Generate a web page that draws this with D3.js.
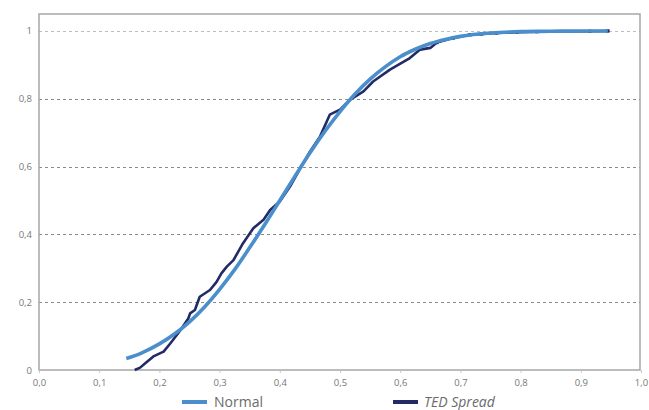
<!DOCTYPE html>
<html>
<head>
<meta charset="utf-8">
<script src="https://cdn.jsdelivr.net/npm/d3@7"></script>
<style>
    body { margin: 0; background: #fff; font-family: "Open Sans", sans-serif; }
</style>
</head>
<body>
<div id="chart-area"></div>
<script>

// tick values
let xTicks = [0, 0.1, 0.2, 0.3, 0.4, 0.5, 0.6, 0.7, 0.8, 0.9, 1.0];
let yTicks = [0, 0.2, 0.4, 0.6, 0.8, 1];

// Normal distribution curve
let normalX = [0.145, 0.17, 0.2, 0.225, 0.25, 0.275, 0.3, 0.325, 0.35, 0.375, 0.4, 0.425, 0.45, 0.475,
    0.5, 0.525, 0.55, 0.575, 0.6, 0.625, 0.65, 0.675, 0.7, 0.75, 0.8, 0.85, 0.9, 0.945];
let normalY = [0.034, 0.050, 0.077, 0.106, 0.142, 0.186, 0.238, 0.296, 0.361, 0.429, 0.5, 0.571, 0.640, 0.704,
    0.762, 0.814, 0.858, 0.894, 0.924, 0.946, 0.963, 0.975, 0.984, 0.994, 0.998, 0.999, 1.0, 1.0];

let tedX = [0.159, 0.168, 0.176, 0.19, 0.207, 0.218, 0.234, 0.248, 0.251, 0.259, 0.267, 0.284, 0.295, 0.303,
    0.312, 0.323, 0.331, 0.339, 0.356, 0.373, 0.384, 0.400, 0.417, 0.434, 0.450, 0.467, 0.483, 0.5, 0.517,
    0.539, 0.555, 0.583, 0.616, 0.633, 0.65, 0.661, 0.688, 0.716, 0.735, 0.760, 0.794, 0.827, 0.915, 0.945];
let tedY = [0, 0.007, 0.019, 0.04, 0.054, 0.078, 0.115, 0.152, 0.167, 0.177, 0.216, 0.236, 0.260, 0.285,
    0.305, 0.324, 0.349, 0.374, 0.418, 0.443, 0.472, 0.497, 0.541, 0.595, 0.644, 0.689, 0.753, 0.768, 0.797,
    0.822, 0.851, 0.886, 0.92, 0.945, 0.95, 0.966, 0.979, 0.989, 0.991, 0.994, 0.996, 0.998, 0.999, 1.0];

let seriesNames = ["Normal", "TED Spread"];
let seriesColors = ["#4a8fcc", "#232b66"];


class CdfChart {

    constructor(_parentElement) {
        this.parentElement = _parentElement;
        this.initVis();
    }

    initVis() {
        let vis = this;

        vis.margin = { top: 14, right: 9, bottom: 40, left: 39 };
        vis.width = 649 - vis.margin.left - vis.margin.right;
        vis.height = 410 - vis.margin.top - vis.margin.bottom;

        vis.svg = d3.select("#" + vis.parentElement).append("svg")
            .attr("width", 649)
            .attr("height", 410)
            .append("g")
            .attr("transform", "translate(" + vis.margin.left + "," + vis.margin.top + ")");

        vis.x = d3.scaleLinear().domain([0, 1]).range([0, 602]);
        vis.y = d3.scaleLinear().domain([0, 1.05]).range([vis.height, 0]);

        vis.wrangleData();
    }

    wrangleData() {
        let vis = this;

        vis.normalData = normalX.map((d, i) => ({ x: d, y: normalY[i] }));
        vis.tedData = tedX.map((d, i) => ({ x: d, y: tedY[i] }));

        vis.updateVis();
    }

    updateVis() {
        let vis = this;
        let fmt = d3.format(".1f");
        let comma = v => fmt(v).replace(".", ",");

        // gridlines
        vis.svg.append("g")
            .selectAll("line")
            .data(yTicks.filter(d => d > 0))
            .enter()
            .append("line")
            .attr("x1", 0)
            .attr("x2", vis.width)
            .attr("y1", d => Math.round(vis.y(d)) + 0.5)
            .attr("y2", d => Math.round(vis.y(d)) + 0.5)
            .attr("stroke", d => d === 1 ? "#bdbdbd" : "#8a8a8a")
            .attr("stroke-width", 1)
            .attr("stroke-dasharray", "3,3");

        // frame
        vis.svg.append("rect")
            .attr("x", 0)
            .attr("y", 0)
            .attr("width", vis.width)
            .attr("height", vis.height)
            .attr("fill", "none")
            .attr("stroke", "#a6a6a6")
            .attr("stroke-width", 1.5);

        // x axis
        let xAxis = d3.axisBottom(vis.x)
            .tickValues(xTicks)
            .tickSize(3)
            .tickPadding(6)
            .tickFormat(comma);

        let gx = vis.svg.append("g")
            .attr("transform", "translate(0," + vis.height + ")")
            .call(xAxis);
        gx.select(".domain").remove();
        gx.selectAll(".tick line").attr("stroke", "#c8c8c8");
        gx.selectAll("text")
            .attr("fill", "#777")
            .style("font-family", "Open Sans")
            .style("font-size", "9.5px");

        // y axis
        let yAxis = d3.axisLeft(vis.y)
            .tickValues(yTicks)
            .tickSize(0)
            .tickPadding(7)
            .tickFormat(d => d === 0 ? "0" : d === 1 ? "1" : comma(d));

        let gy = vis.svg.append("g").call(yAxis);
        gy.select(".domain").remove();
        gy.selectAll("text")
            .attr("fill", "#777")
            .style("font-family", "Open Sans")
            .style("font-size", "9.5px");

        // lines
        let line = d3.line()
            .x(d => vis.x(d.x))
            .y(d => vis.y(d.y));

        vis.svg.append("path")
            .datum(vis.tedData)
            .attr("d", line)
            .attr("fill", "none")
            .attr("stroke", seriesColors[1])
            .attr("stroke-width", 2.6)
            .attr("stroke-linejoin", "round");

        // markers only show where the observations are sparse (upper tail)
        vis.svg.append("g")
            .selectAll("rect")
            .data(vis.tedData.filter(d => d.x > 0.65))
            .enter()
            .append("rect")
            .attr("x", d => vis.x(d.x) - 1.7)
            .attr("y", d => vis.y(d.y) - 1.7)
            .attr("width", 3.4)
            .attr("height", 3.4)
            .attr("fill", seriesColors[1]);

        vis.svg.append("path")
            .datum(vis.normalData)
            .attr("d", line.curve(d3.curveMonotoneX))
            .attr("fill", "none")
            .attr("stroke", seriesColors[0])
            .attr("stroke-width", 3.6)
            .attr("stroke-linecap", "butt");

        // legend
        let legendX = [143, 354];
        let legend = vis.svg.append("g")
            .attr("transform", "translate(0," + (vis.height + 32) + ")");

        let items = legend.selectAll("g")
            .data(seriesNames)
            .enter()
            .append("g")
            .attr("transform", (d, i) => "translate(" + legendX[i] + ",0)");

        items.append("line")
            .attr("x1", 0)
            .attr("x2", 25)
            .attr("y1", 0)
            .attr("y2", 0)
            .attr("stroke", (d, i) => seriesColors[i])
            .attr("stroke-width", 4);

        items.append("text")
            .attr("x", (d, i) => i === 0 ? 32 : 31)
            .attr("y", 4.5)
            .attr("fill", "#6b6b6b")
            .style("font-family", "Open Sans")
            .style("font-size", "14px")
            .style("font-style", (d, i) => i === 1 ? "italic" : "normal")
            .text(d => d);
    }
}

new CdfChart("chart-area");

</script>
</body>
</html>
